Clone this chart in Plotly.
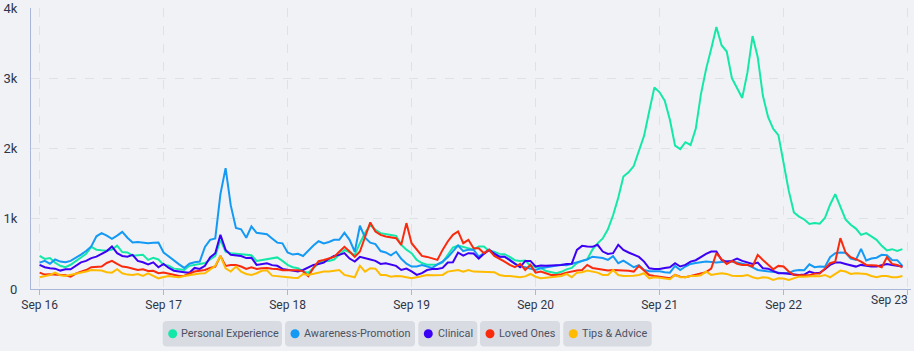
import pandas as pd
import plotly.graph_objects as go

# ---------------- data ----------------
series_names = ["Personal Experience", "Awareness-Promotion", "Clinical", "Loved Ones", "Tips & Advice"]
start_time = "2023-09-16 00:00"
n_hours = 168
x_tick_dates = ["2023-09-16", "2023-09-17", "2023-09-18", "2023-09-19", "2023-09-20", "2023-09-21", "2023-09-22", "2023-09-23"]
x_tick_labels = ["Sep 16", "Sep 17", "Sep 18", "Sep 19", "Sep 20", "Sep 21", "Sep 22", "Sep 23"]

personal_experience = [
    471, 428, 440, 376, 330, 310, 345, 400, 445, 500, 600, 560, 550, 545, 560, 617, 525, 520, 475, 480, 486, 414, 443, 420,
    343, 330, 290, 280, 271, 330, 343, 355, 370, 420, 471, 700, 533, 510, 505, 500, 486, 480, 400, 410, 425, 440, 450, 400,
    343, 310, 295, 250, 230, 300, 367, 395, 400, 420, 486, 557, 520, 486, 652, 800, 910, 843, 795, 786, 770, 757, 629, 560,
    510, 414, 370, 345, 343, 350, 380, 486, 590, 620, 600, 590, 560, 605, 605, 540, 530, 500, 495, 457, 410, 400, 405, 330,
    310, 300, 255, 240, 225, 245, 280, 300, 370, 400, 424, 560, 650, 720, 850, 1050, 1300, 1600, 1660, 1750, 1960, 2180, 2530, 2870,
    2800, 2680, 2410, 2040, 1990, 2090, 2050, 2280, 2770, 3130, 3420, 3730, 3470, 3380, 3000, 2870, 2720, 3080, 3600, 3300, 2750, 2450, 2280, 2190,
    1790, 1400, 1090, 1030, 990, 925, 940, 930, 1010, 1200, 1350, 1180, 990, 915, 860, 770, 795, 750, 700, 615, 550, 567, 543, 567,
]
awareness_promotion = [
    376, 400, 360, 420, 390, 380, 400, 440, 490, 540, 605, 750, 795, 760, 714, 760, 814, 730, 662, 670, 662, 650, 660, 662,
    520, 460, 410, 350, 300, 360, 380, 390, 600, 700, 720, 1350, 1720, 1190, 870, 850, 730, 890, 800, 790, 780, 720, 660, 650,
    520, 490, 500, 470, 550, 620, 680, 650, 670, 700, 700, 800, 700, 530, 900, 730, 660, 640, 540, 520, 480, 530, 430, 360,
    320, 320, 340, 320, 300, 350, 390, 450, 530, 620, 540, 560, 560, 460, 510, 560, 510, 460, 460, 420, 360, 320, 310, 295,
    270, 295, 310, 320, 340, 345, 340, 360, 390, 400, 420, 460, 445, 440, 414, 467, 367, 405, 357, 310, 338, 271, 252, 255,
    252, 240, 233, 329, 271, 320, 357, 370, 385, 390, 385, 376, 385, 390, 390, 376, 360, 343, 309, 271, 260, 248, 240, 233,
    225, 230, 260, 271, 268, 352, 310, 319, 315, 452, 510, 519, 515, 433, 414, 571, 405, 433, 445, 486, 480, 414, 410, 329,
]
clinical = [
    343, 310, 295, 290, 262, 281, 280, 330, 380, 400, 440, 460, 500, 540, 605, 510, 470, 460, 486, 400, 380, 350, 380, 310,
    357, 300, 260, 245, 240, 230, 300, 286, 330, 450, 510, 771, 557, 486, 480, 470, 440, 445, 343, 360, 367, 340, 330, 286,
    271, 260, 250, 271, 310, 343, 355, 376, 430, 470, 486, 510, 433, 390, 457, 433, 420, 400, 357, 365, 350, 329, 271, 290,
    250, 200, 225, 270, 286, 286, 300, 376, 380, 519, 476, 510, 505, 433, 500, 557, 500, 460, 460, 414, 360, 310, 400, 400,
    320, 333, 330, 333, 340, 343, 357, 360, 557, 614, 605, 600, 629, 533, 500, 510, 629, 557, 520, 486, 457, 390, 295, 286,
    286, 300, 309, 367, 320, 343, 390, 410, 460, 500, 533, 533, 414, 390, 400, 433, 400, 376, 357, 376, 295, 290, 260, 224,
    224, 215, 200, 200, 205, 248, 224, 230, 281, 343, 376, 376, 357, 340, 319, 343, 330, 319, 320, 343, 357, 343, 329, 319,
]
loved_ones = [
    233, 205, 210, 205, 200, 195, 176, 220, 248, 270, 310, 310, 320, 370, 400, 357, 320, 310, 290, 271, 281, 257, 260, 224,
    233, 214, 200, 186, 190, 214, 248, 260, 271, 300, 319, 471, 329, 343, 343, 320, 286, 310, 286, 295, 300, 290, 286, 267,
    267, 265, 267, 252, 181, 300, 395, 414, 430, 457, 530, 600, 533, 457, 533, 743, 948, 819, 771, 748, 735, 724, 629, 938,
    652, 557, 471, 457, 440, 414, 557, 676, 771, 819, 652, 700, 581, 581, 510, 557, 470, 433, 390, 343, 310, 357, 271, 343,
    233, 248, 220, 200, 200, 210, 233, 250, 262, 271, 343, 300, 290, 271, 262, 271, 271, 265, 260, 248, 329, 262, 200, 186,
    175, 167, 152, 200, 176, 167, 186, 195, 215, 240, 290, 510, 424, 357, 400, 360, 343, 345, 320, 486, 414, 343, 281, 329,
    320, 248, 200, 195, 200, 195, 219, 222, 290, 367, 390, 724, 519, 452, 424, 390, 343, 333, 333, 310, 452, 357, 343, 310,
]
tips_advice = [
    167, 186, 200, 233, 195, 186, 200, 215, 233, 248, 271, 262, 262, 240, 233, 281, 224, 205, 200, 214, 186, 224, 186, 152,
    170, 186, 176, 167, 185, 200, 214, 220, 224, 271, 330, 471, 295, 248, 319, 248, 214, 200, 224, 260, 267, 190, 181, 181,
    171, 160, 157, 214, 200, 214, 224, 248, 248, 255, 271, 200, 185, 167, 329, 248, 295, 290, 200, 200, 176, 186, 180, 167,
    152, 167, 186, 200, 195, 200, 200, 248, 260, 271, 248, 271, 248, 245, 240, 233, 240, 200, 186, 186, 180, 167, 180, 214,
    175, 152, 160, 167, 180, 186, 214, 167, 233, 240, 262, 248, 233, 200, 200, 271, 200, 186, 186, 190, 200, 224, 152, 167,
    160, 152, 138, 200, 167, 167, 186, 186, 195, 248, 200, 215, 224, 215, 190, 186, 186, 200, 167, 150, 167, 160, 129, 152,
    150, 129, 150, 176, 176, 186, 186, 180, 200, 167, 214, 262, 248, 214, 224, 224, 214, 186, 167, 186, 186, 167, 167, 186,
]
y_tick_values = [0, 1000, 2000, 3000, 4000]
y_tick_labels = ["0", "1k", "2k", "3k", "4k"]

# ---------------- style ----------------
colors = ["#14e8a8", "#1499f5", "#3c00f5", "#fa2a0c", "#ffbb00"]
bg = "#f0f2f5"
axis_col = "#aab7da"
grid_col = "#dde1e8"
tick_font = dict(family="Roboto", size=12, color="#2f3648")

times = pd.date_range(start_time, periods=n_hours, freq="h")
all_series = [personal_experience, awareness_promotion, clinical, loved_ones, tips_advice]

fig = go.Figure()
for name, vals, col in zip(series_names, all_series, colors):
    fig.add_trace(go.Scatter(x=times, y=vals, mode="lines", name=name,
                             line=dict(color=col, width=2)))

# plot area in pixels
L, R, T, B = 31, 911, 8, 289
W, H = R - L, B - T


def px(x):
    return (x - L) / W


def py(y):
    return (B - y) / H


def rrect(x0, y0, x1, y1, r):
    rx, ry = r / W, r / H
    X0, X1 = px(x0), px(x1)
    Y0, Y1 = py(y1), py(y0)
    return (f"M {X0+rx},{Y0} L {X1-rx},{Y0} Q {X1},{Y0} {X1},{Y0+ry} "
            f"L {X1},{Y1-ry} Q {X1},{Y1} {X1-rx},{Y1} L {X0+rx},{Y1} "
            f"Q {X0},{Y1} {X0},{Y1-ry} L {X0},{Y0+ry} Q {X0},{Y0} {X0+rx},{Y0} Z")


legend_boxes = [(162.7, 282.0), (285.0, 415.0), (418.3, 477.3), (480.0, 560.0), (563.3, 651.7)]
legend_top, legend_bottom = 321, 346.5
shapes, annotations = [], []
for (bx0, bx1), name, col in zip(legend_boxes, series_names, colors):
    shapes.append(dict(type="path", xref="paper", yref="paper",
                       path=rrect(bx0, legend_top, bx1, legend_bottom, 4),
                       fillcolor="#d8dbe1", line=dict(width=0), layer="above"))
    cx, cy, r = bx0 + 10, (legend_top + legend_bottom) / 2, 4.5
    shapes.append(dict(type="circle", xref="paper", yref="paper",
                       x0=px(cx - r), x1=px(cx + r), y0=py(cy + r), y1=py(cy - r),
                       fillcolor=col, line=dict(width=0), layer="above"))
    tx = (bx0 + 19.5 + bx1 - 5) / 2
    annotations.append(dict(text=name, xref="paper", yref="paper", x=px(tx), y=py(cy),
                            xanchor="center", yanchor="middle", showarrow=False,
                            font=dict(family="Roboto", size=10.8, color="#4a5264")))

# last x label sits flush with the right edge (as in the reference)
annotations.append(dict(text=x_tick_labels[-1], xref="paper", yref="paper",
                        x=px(910), y=py(300), xanchor="right", yanchor="middle",
                        showarrow=False, font=tick_font))

fig.update_layout(
    width=914, height=351,
    margin=dict(l=L, r=914 - R, t=T, b=351 - B),
    paper_bgcolor=bg, plot_bgcolor=bg,
    showlegend=False,
    font=dict(family="Roboto", size=12, color="#2f3648"),
    shapes=shapes, annotations=annotations,
    xaxis=dict(
        type="date",
        range=["2023-09-15 22:20", "2023-09-23 00:40"],
        tickvals=x_tick_dates, ticktext=x_tick_labels[:-1] + [""],
        showgrid=True, gridcolor=grid_col, griddash="dash", gridwidth=1,
        showline=True, linecolor=axis_col, linewidth=1,
        ticks="outside", ticklen=5, tickcolor=axis_col,
        zeroline=False, automargin=False,
        tickfont=tick_font,
    ),
    yaxis=dict(
        range=[0, 4000], tickvals=y_tick_values, ticktext=y_tick_labels,
        showgrid=True, gridcolor=grid_col, griddash="dash", gridwidth=1,
        showline=True, linecolor=axis_col, linewidth=1,
        ticks="", zeroline=False, automargin=False, ticklabelstandoff=10,
        tickfont=dict(family="Roboto", size=13, color="#2f3648"),
    ),
)

fig.write_html("out.html")
